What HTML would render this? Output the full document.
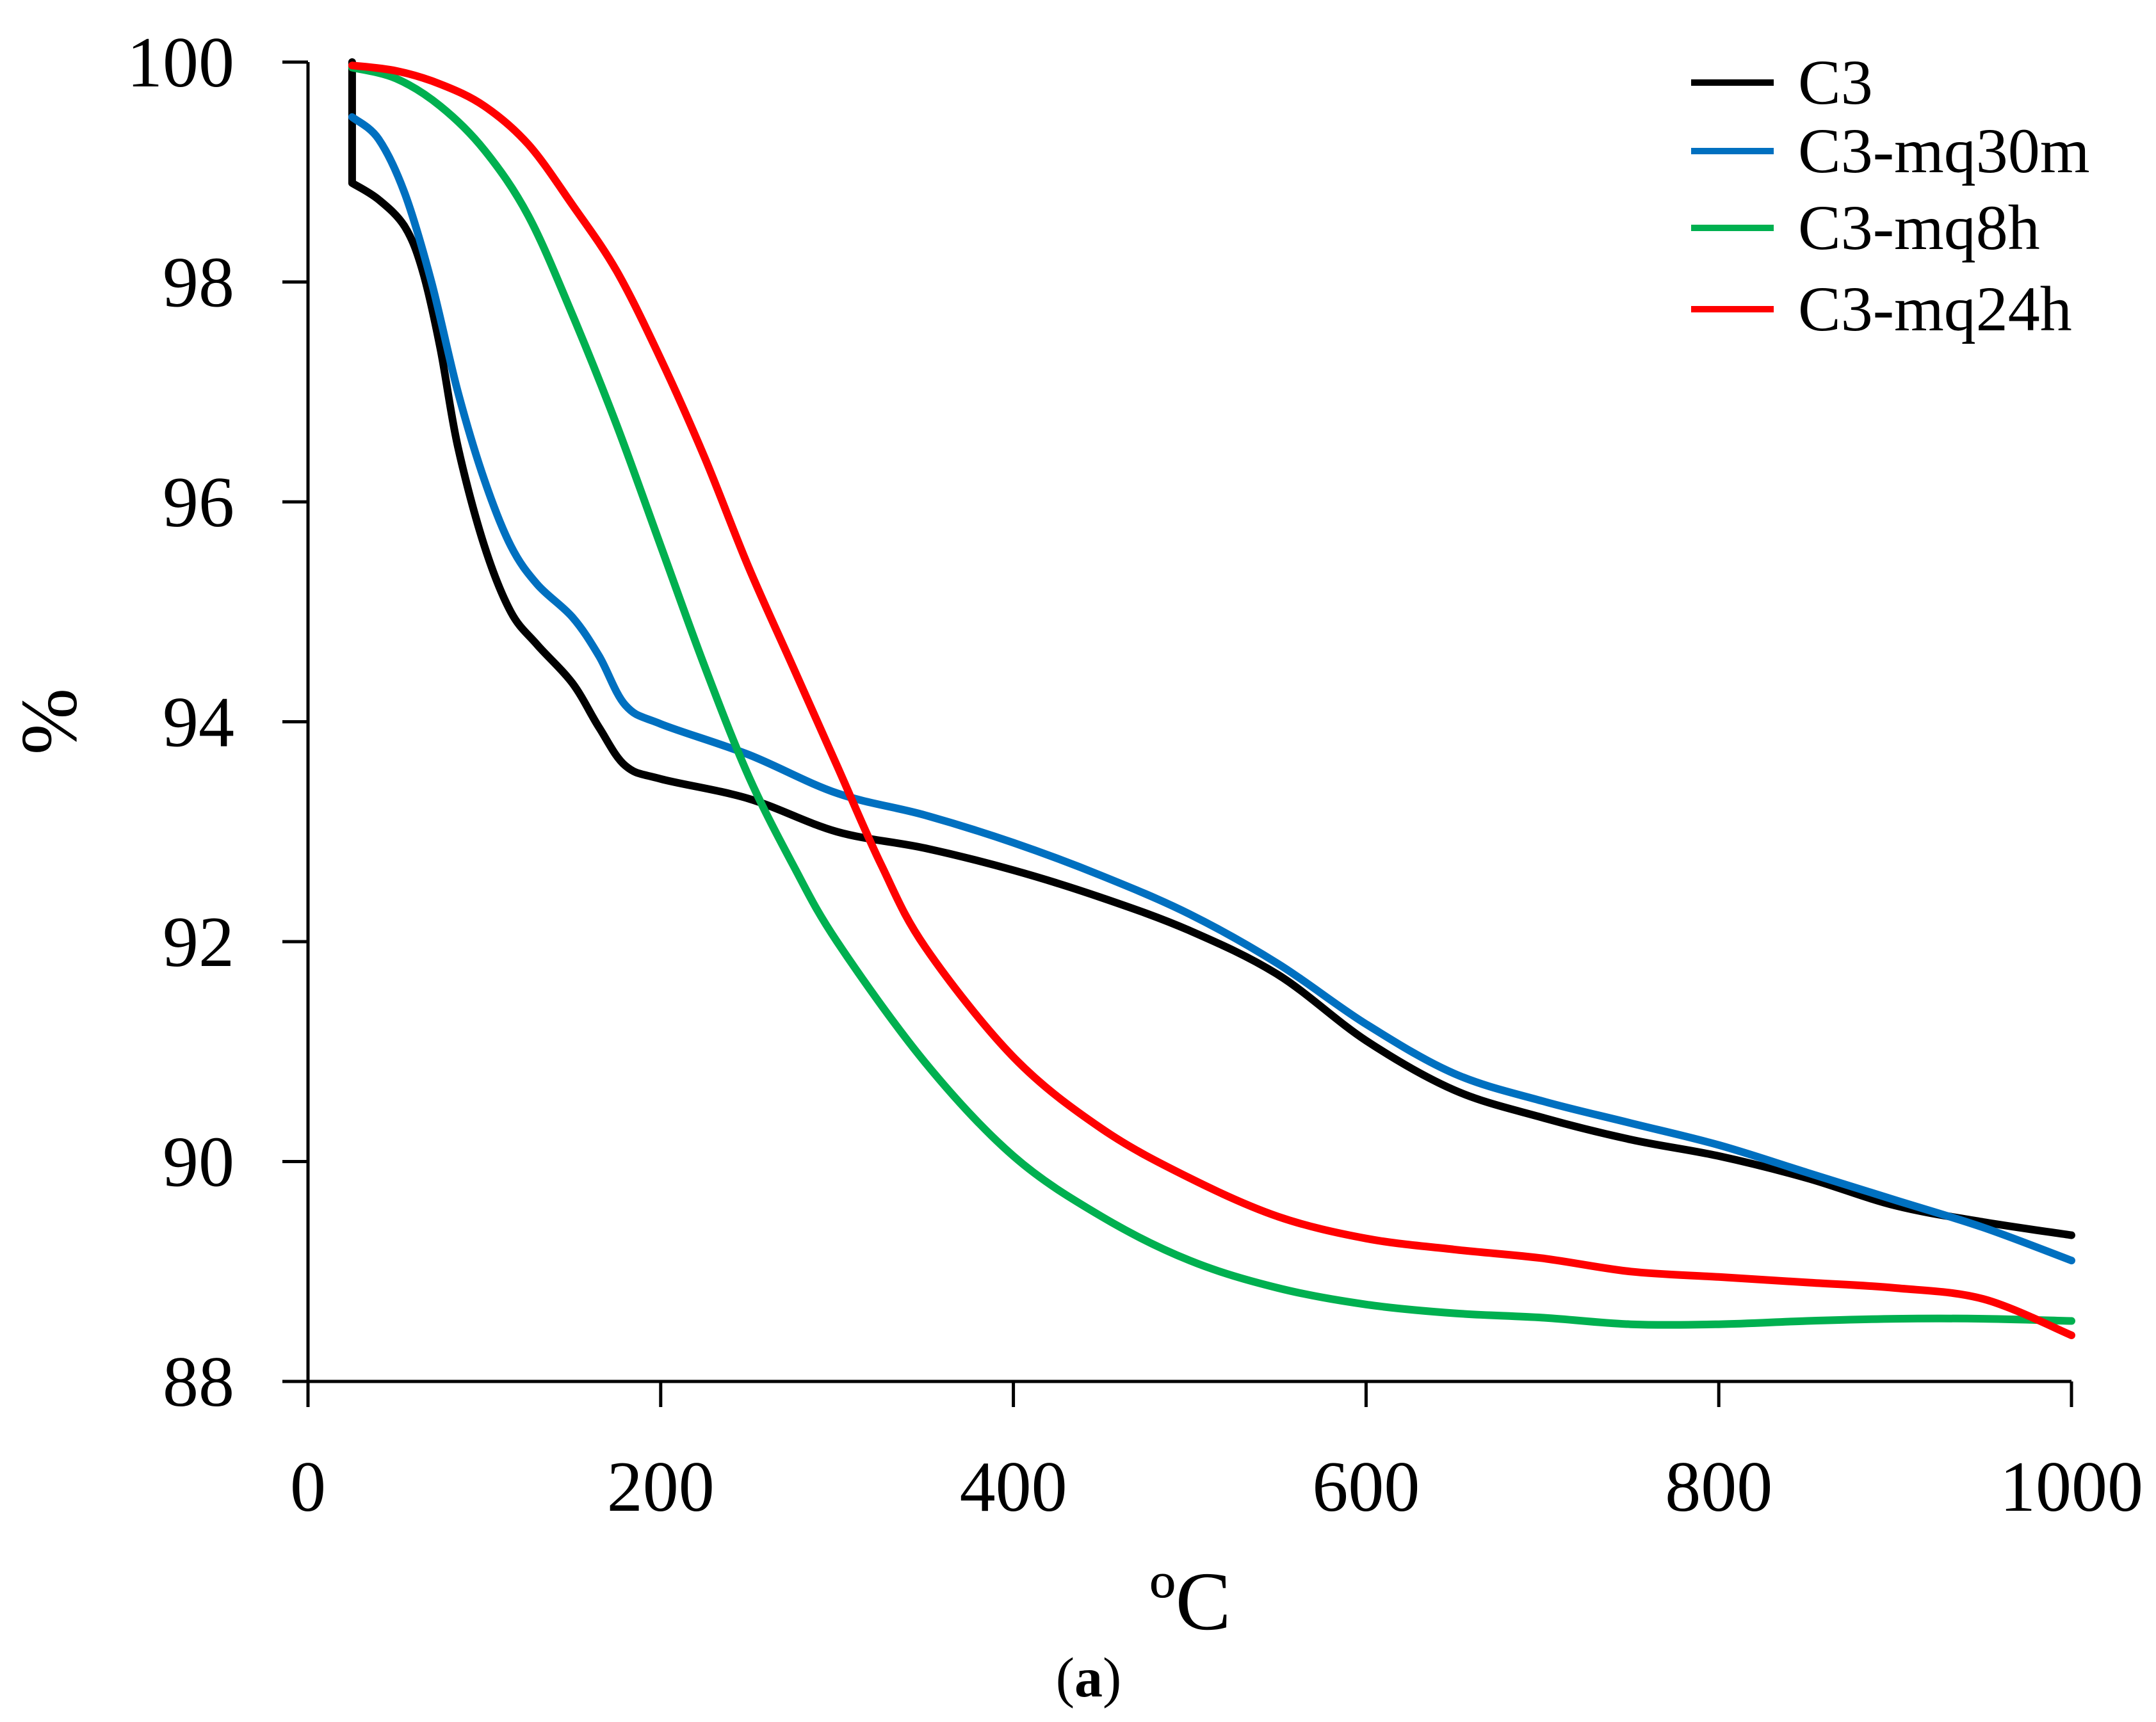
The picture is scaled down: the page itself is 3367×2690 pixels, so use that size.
<!DOCTYPE html>
<html><head><meta charset="utf-8"><style>
html,body{margin:0;padding:0;background:#fff;}
svg{display:block;}
text{font-family:"Liberation Serif",serif;fill:#000;}
</style></head><body>
<svg id="chart" width="3367" height="2690" viewBox="0 0 3367 2690" xmlns="http://www.w3.org/2000/svg">
<g id="axes"></g>
<g id="series"></g>
<g id="legend"></g>
<text x="90" y="1127" font-size="125" text-anchor="middle" dominant-baseline="middle" transform="rotate(-90 90 1127)">%</text>
<text x="1859" y="2545" font-size="130" text-anchor="middle">ºC</text>
<text x="1700" y="2650" font-size="88" text-anchor="middle">(<tspan font-weight="bold">a</tspan>)</text>
</svg>
<script>
const xTicks = [0, 200, 400, 600, 800, 1000];
const yTicks = [88, 90, 92, 94, 96, 98, 100];
const seriesNames = ["C3", "C3-mq30m", "C3-mq8h", "C3-mq24h"];
const seriesColors = ["#000000", "#0070c0", "#00b050", "#ff0000"];
const c3X = [25,25,40,55,65,75,85,100,115,130,150,165,180,200,250,300,350,400,450,500,550,600,650,700,750,800,850,900,950,1000];
const c3Y = [100,98.9,98.75,98.5,98.1,97.4,96.5,95.6,95.0,94.7,94.35,93.95,93.6,93.48,93.3,93.0,92.85,92.65,92.4,92.1,91.7,91.1,90.65,90.4,90.2,90.05,89.85,89.6,89.45,89.33];
const mq30X = [25,40,55,70,85,100,115,130,150,165,180,200,250,300,350,400,450,500,550,600,650,700,750,800,850,900,950,1000];
const mq30Y = [99.5,99.3,98.8,98.0,97.0,96.2,95.6,95.25,94.95,94.6,94.15,93.98,93.7,93.35,93.15,92.9,92.6,92.25,91.8,91.25,90.8,90.55,90.35,90.15,89.9,89.65,89.4,89.1];
const mq8X = [25,50,75,100,125,150,175,200,225,250,275,300,350,400,450,500,550,600,650,700,750,800,850,900,950,1000];
const mq8Y = [99.95,99.85,99.6,99.2,98.6,97.7,96.7,95.6,94.5,93.5,92.7,92.0,90.9,90.05,89.5,89.1,88.85,88.7,88.62,88.58,88.52,88.52,88.55,88.57,88.57,88.55];
const mq24X = [25,50,75,100,125,150,175,200,225,250,275,300,325,350,400,450,500,550,600,650,700,750,800,850,900,950,1000];
const mq24Y = [99.97,99.92,99.8,99.6,99.25,98.7,98.1,97.3,96.4,95.4,94.5,93.6,92.7,91.95,90.95,90.3,89.85,89.5,89.3,89.2,89.12,89.0,88.95,88.9,88.85,88.75,88.42];

const NS = "http://www.w3.org/2000/svg";
const X0 = 481, X1 = 3235, Y0 = 2158, Y1 = 97;
function sx(v){ return X0 + (v - 0) / 1000 * (X1 - X0); }
function sy(v){ return Y0 - (v - 88) / 12 * (Y0 - Y1); }
function mk(tag, attrs, parent){ const e = document.createElementNS(NS, tag); for (const k in attrs) e.setAttribute(k, attrs[k]); parent.appendChild(e); return e; }
function smoothPath(pts){
  let d = 'M' + pts[0][0].toFixed(1) + ',' + pts[0][1].toFixed(1);
  for (let i = 0; i < pts.length - 1; i++) {
    const p0 = pts[Math.max(0, i-1)], p1 = pts[i], p2 = pts[i+1], p3 = pts[Math.min(pts.length-1, i+2)];
    if (Math.abs(p1[0]-p2[0]) < 0.5) { d += ' L' + p2[0].toFixed(1) + ',' + p2[1].toFixed(1); continue; }
    const q0 = Math.abs(p0[0]-p1[0]) < 0.5 ? p1 : p0;
    const c1 = [p1[0] + (p2[0]-q0[0])/6, p1[1] + (p2[1]-q0[1])/6];
    const c2 = [p2[0] - (p3[0]-p1[0])/6, p2[1] - (p3[1]-p1[1])/6];
    d += ' C' + c1[0].toFixed(1) + ',' + c1[1].toFixed(1) + ' ' + c2[0].toFixed(1) + ',' + c2[1].toFixed(1) + ' ' + p2[0].toFixed(1) + ',' + p2[1].toFixed(1);
  }
  return d;
}

const axes = document.getElementById('axes');
let yl = mk('line', {x1:X0, y1:sy(88), x2:X0, y2:sy(100), stroke:'#000', 'stroke-width':5}, axes);


let xl = mk('line', {x1:X0, y1:Y0, x2:sx(1000), y2:Y0, stroke:'#000', 'stroke-width':5}, axes);


yTicks.forEach(v => {
  const t = mk('line', {x1:X0-40, y1:sy(v), x2:X0, y2:sy(v), stroke:'#000', 'stroke-width':5}, axes);
  
  
  const l = mk('text', {x:366, y:sy(v)+38, 'font-size':112, 'text-anchor':'end'}, axes);
  l.textContent = v;
  
  
});
xTicks.forEach(v => {
  const t = mk('line', {x1:sx(v), y1:Y0, x2:sx(v), y2:Y0+40, stroke:'#000', 'stroke-width':5}, axes);
  
  
  const l = mk('text', {x:sx(v), y:2360, 'font-size':112, 'text-anchor':'middle'}, axes);
  l.textContent = v;
  
  
});

const seriesG = document.getElementById('series');
const allX = [c3X, mq30X, mq8X, mq24X];
const allY = [c3Y, mq30Y, mq8Y, mq24Y];
[0, 1, 2, 3].forEach(i => {
  const pts = allX[i].map((x, j) => [sx(x), sy(allY[i][j])]);
  const p = mk('path', {d:smoothPath(pts), fill:'none', stroke:seriesColors[i], 'stroke-width':12, 'stroke-linejoin':'round', 'stroke-linecap':'round'}, seriesG);
  
  
});

const leg = document.getElementById('legend');
const legY = [129, 236, 356, 483];
seriesNames.forEach((n, i) => {
  const ln = mk('line', {x1:2641, y1:legY[i], x2:2770, y2:legY[i], stroke:seriesColors[i], 'stroke-width':10}, leg);
  
  
  const t = mk('text', {x:2808, y:legY[i]+33, 'font-size':100}, leg);
  t.textContent = n;
  
  
});
</script>
</body></html>
